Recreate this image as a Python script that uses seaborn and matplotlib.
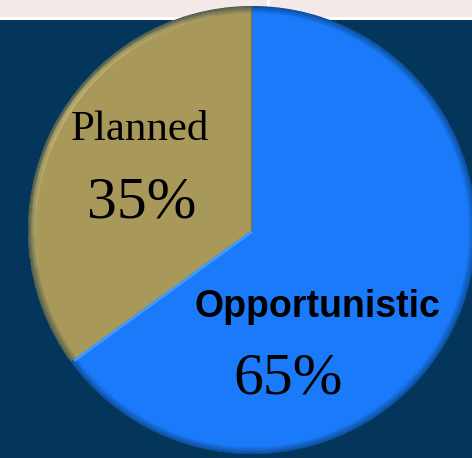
import matplotlib
matplotlib.use("Agg")
import numpy as np
import matplotlib.pyplot as plt
from matplotlib.patches import Rectangle, Wedge
import seaborn as sns

# Share of activity by type
categories = ["Opportunistic", "Planned"]
shares = [65, 35]
pct_labels = ["65%", "35%"]

slice_colors = ["#1a7afa", "#a8995a"]
bg_navy = "#04355a"
strip_pink = "#f3e9e9"

sns.set_theme(style="white")

W, H = 472, 458
fig = plt.figure(figsize=(W / 100, H / 100), dpi=100, facecolor=bg_navy)
ax = fig.add_axes([0, 0, 1, 1])
ax.set_facecolor(bg_navy)

# light band across the top
ax.add_patch(Rectangle((0, H - 17), W, 17, facecolor=strip_pink, edgecolor="none", zorder=0))
ax.add_patch(Rectangle((0, H - 20), W, 3, facecolor="white", edgecolor="none", zorder=0))
ax.add_patch(Rectangle((267, H - 17), 3, 17, facecolor="white", edgecolor="none", zorder=0))

cx, cy, r = 252, 228, 224
wedges, _ = ax.pie(
    shares,
    colors=slice_colors,
    startangle=90,
    counterclock=False,
    center=(cx, cy),
    radius=r,
    wedgeprops=dict(linewidth=0, edgecolor="none"),
)
for w in wedges:
    w.set_zorder(2)

# soft darkened rim, strongest at the outer edge
for i in range(7):
    ax.add_patch(Wedge((cx, cy), r - i, 0, 360, width=1, facecolor="#042a4a",
                       alpha=0.55 * (1 - i / 7), edgecolor="none", zorder=3))

# lighter sheen along the upper-left rim, fading out at both ends
for k in range(6):
    ax.add_patch(Wedge((cx, cy), r - 3, 100 + 8 * k, 190 - 8 * k, width=5,
                       facecolor="#f0e19a", alpha=0.08, edgecolor="none", zorder=3))

# highlight along the lower slice boundary
ang = np.deg2rad(90 - 360 * shares[0] / 100)
ax.plot([cx, cx + (r - 4) * np.cos(ang)], [cy - 1.5, cy + (r - 4) * np.sin(ang) - 1.5],
        color="#4fa2ff", linewidth=2, alpha=0.8, solid_capstyle="butt", zorder=3)
# darker seam on the vertical boundary
ax.plot([cx - 1, cx - 1], [cy, cy + r - 2], color="#6b6030", linewidth=1, alpha=0.7, zorder=3)

serif = ["Liberation Serif", "DejaVu Serif"]
ax.text(140, H - 140, categories[1], fontsize=31, family=serif, color="black",
        ha="center", va="baseline", zorder=5)
ax.text(142, H - 218, pct_labels[1], fontsize=43, family=serif, color="black",
        ha="center", va="baseline", zorder=5)
ax.text(317, H - 317, categories[0], fontsize=27, family=["Liberation Sans", "DejaVu Sans"],
        fontweight="bold", color="black", ha="center", va="baseline", zorder=5)
ax.text(288, H - 393, pct_labels[0], fontsize=43, family=serif, color="black",
        ha="center", va="baseline", zorder=5)

ax.set_xlim(0, W)
ax.set_ylim(0, H)
ax.set_aspect("auto")
ax.axis("off")

fig.savefig("out.png", dpi=100, facecolor=bg_navy)
